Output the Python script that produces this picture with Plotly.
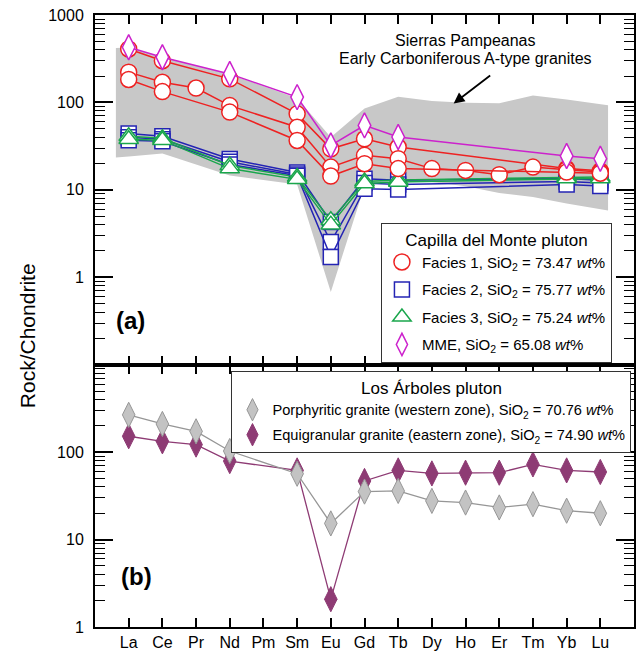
import plotly.graph_objects as go

ELEMENTS = ["La", "Ce", "Pr", "Nd", "Pm", "Sm", "Eu", "Gd", "Tb", "Dy", "Ho", "Er", "Tm", "Yb", "Lu"]
N = None

# ---- Panel (a): Capilla del Monte pluton ----
FACIES1 = [
    [409, 300, N, 186, N, 74, 29.5, 38.4, 30.9, N, N, N, N, 17.5, 16.5],
    [222, 170, 146, 92, N, 52, 18.2, 24.8, 22.7, 17.5, 16.7, 14.9, 18.2, 17.0, 16.0],
    [183, 133, N, 77.5, N, 36.7, 14.4, 19.9, 17.5, N, N, N, N, 16.0, 15.5],
]
FACIES2 = [
    [44, 41, N, 22.6, N, 15.8, 4.3, 13.4, 12.9, N, N, N, N, 13.5, 12.9],
    [40, 38, N, 21.0, N, 15.0, 2.54, 12.0, 11.5, N, N, N, N, 12.5, 12.0],
    [37, 36, N, 19.5, N, 14.5, 1.71, 10.3, 10.1, N, N, N, N, 11.5, 11.1],
]
FACIES3 = [
    [41, 39, N, 19.0, N, 14.0, 4.5, 12.5, 13.0, N, N, N, N, 14.0, 14.0],
    [38, 37, N, 17.5, N, 13.2, 4.0, 11.8, 12.3, N, N, N, N, 13.5, 13.5],
]
MME = [[428, 329, N, 212, N, 115, 32.2, 54.6, 40.2, N, N, N, N, 24.4, 22.7]]

# Sierras Pampeanas Early Carboniferous A-type granites field
BAND_X = [-0.38, 0, 1, 3, 5, 6, 7, 8, 9, 10, 11, 12, 13, 14, 14.23]
BAND_UPPER = [420, 425, 330, 210, 112, 40, 85, 116, 104, 99, 98, 120, 108, 95, 93]
BAND_LOWER = [23.5, 24, 26, 14.6, 11.5, 0.68, 11, 13, 12.3, 11, 9.2, 8.3, 7, 6, 5.8]

# ---- Panel (b): Los Árboles pluton ----
PORPHYRITIC = [267, 210, 173, 103, N, 56.6, 15.3, 35.4, 36, 27.7, 26.5, 23.3, 25.4, 21.4, 20]
EQUIGRANULAR = [152, 133, 122, 79, N, 61.8, 2.08, 46.8, 61.8, 57.1, 58.2, 58.2, 72.4, 61.8, 59.3]

FONT = "Liberation Sans, Arial, sans-serif"
XIDX = list(range(len(ELEMENTS)))

RED = "#ee2222"
BLUE = "#2424b4"
GREEN = "#1aa64c"
MAG = "#cc22cc"
GRAYM = "#c3c3c3"
GRAYL = "#969696"
PURPLE = "#8e3b74"

fig = go.Figure()

# band
fig.add_trace(go.Scatter(
    x=BAND_X + BAND_X[::-1], y=BAND_UPPER + BAND_LOWER[::-1],
    fill="toself", fillcolor="#c8c8c8", mode="lines", line=dict(width=0),
    showlegend=False, hoverinfo="skip", xaxis="x", yaxis="y"))

groups = [
    (FACIES2, BLUE, "square", 15, "Facies 2, SiO<sub>2</sub> = 75.77 <i>wt</i>%", 2),
    (FACIES3, GREEN, "triangle-up", 17, "Facies 3, SiO<sub>2</sub> = 75.24 <i>wt</i>%", 3),
    (FACIES1, RED, "circle", 16, "Facies 1, SiO<sub>2</sub> = 73.47 <i>wt</i>%", 1),
    (MME, MAG, "diamond-tall", 18, "MME, SiO<sub>2</sub> = 65.08 <i>wt</i>%", 4),
]
for samples, col, sym, size, name, rank in groups:
    for s in samples:
        fig.add_trace(go.Scatter(
            x=XIDX, y=s, mode="lines+markers", connectgaps=True,
            line=dict(color=col, width=1.5),
            marker=dict(symbol=sym, size=size, color="white", line=dict(color=col, width=1.5)),
            showlegend=False, xaxis="x", yaxis="y"))
    fig.add_trace(go.Scatter(
        x=[None], y=[None], mode="markers", name=name,
        marker=dict(symbol=sym, size=size, color="white", line=dict(color=col, width=1.5)),
        legend="legend", legendgroup=name, legendrank=rank, xaxis="x", yaxis="y"))

# panel b
fig.add_trace(go.Scatter(
    x=XIDX, y=EQUIGRANULAR, mode="lines+markers", connectgaps=True,
    line=dict(color=PURPLE, width=1.3),
    marker=dict(symbol="diamond-tall", size=18, color=PURPLE, line=dict(color=PURPLE, width=1)),
    showlegend=False, xaxis="x2", yaxis="y2"))
fig.add_trace(go.Scatter(
    x=XIDX, y=PORPHYRITIC, mode="lines+markers", connectgaps=True,
    line=dict(color=GRAYL, width=1.3),
    marker=dict(symbol="diamond-tall", size=18, color=GRAYM, line=dict(color=GRAYL, width=1)),
    showlegend=False, xaxis="x2", yaxis="y2"))
fig.add_trace(go.Scatter(
    x=[None], y=[None], mode="markers",
    name="Porphyritic granite (western zone), SiO<sub>2</sub> = 70.76 <i>wt</i>%",
    marker=dict(symbol="diamond-tall", size=18, color=GRAYM, line=dict(color=GRAYL, width=1)),
    legend="legend2", legendgroup="po", legendrank=1, xaxis="x2", yaxis="y2"))
fig.add_trace(go.Scatter(
    x=[None], y=[None], mode="markers",
    name="Equigranular granite (eastern zone), SiO<sub>2</sub> = 74.90 <i>wt</i>%",
    marker=dict(symbol="diamond-tall", size=18, color=PURPLE, line=dict(color=PURPLE, width=1)),
    legend="legend2", legendgroup="eq", legendrank=2, xaxis="x2", yaxis="y2"))

W, H = 640, 655
ML, MR, MT, MB = 95, 4, 15, 24
PW, PH = W - ML - MR, H - MT - MB
split = 264 / PH

def px(xp):
    return (xp - ML) / PW

def py(yp):
    return (H - MB - yp) / PH

MINOR_TOP = [m * 10 ** d for d in range(-1, 3) for m in range(2, 10)]
MINOR_BOT = [m * 10 ** d for d in range(0, 3) for m in range(2, 10)]

xcommon = dict(range=[-1, 15], showgrid=False, zeroline=False, showline=True,
               linecolor="black", linewidth=2, mirror="ticks", ticks="inside",
               ticklen=9, tickwidth=1.5, tickcolor="black",
               tickvals=XIDX, ticktext=ELEMENTS,
               tickfont=dict(family=FONT, size=16, color="black"))
ycommon = dict(type="log", showgrid=False, zeroline=False, showline=True,
               linecolor="black", linewidth=2, mirror="ticks", ticks="inside",
               ticklen=18, tickwidth=1.5, tickcolor="black",
               tickfont=dict(family=FONT, size=16, color="black"), ticklabelstandoff=6)

fig.update_layout(
    width=W, height=H, margin=dict(l=ML, r=MR, t=MT, b=MB),
    paper_bgcolor="white", plot_bgcolor="white",
    font=dict(family=FONT, color="black"),
    xaxis=dict(xcommon, anchor="y", showticklabels=False),
    xaxis2=dict(xcommon, anchor="y2", matches="x"),
    yaxis=dict(ycommon, domain=[split, 1], range=[-1, 3],
               tickvals=[0.1, 1, 10, 100, 1000], ticktext=["", "1", "10", "100", "1000"],
               minor=dict(ticks="inside", ticklen=10, tickwidth=1, tickcolor="black",
                          tickmode="array", tickvals=MINOR_TOP, showgrid=False)),
    yaxis2=dict(ycommon, domain=[0, split], range=[0, 3],
                tickvals=[1, 10, 100, 1000], ticktext=["1", "10", "100", ""],
                minor=dict(ticks="inside", ticklen=10, tickwidth=1, tickcolor="black",
                           tickmode="array", tickvals=MINOR_BOT, showgrid=False)),
    legend=dict(x=px(382), y=py(224), xanchor="left", yanchor="top",
                bgcolor="white", bordercolor="#333", borderwidth=1,
                font=dict(family=FONT, size=15, color="black"),
                title=dict(text="Capilla del Monte pluton", side="top center",
                           font=dict(family=FONT, size=17, color="black")),
                tracegroupgap=5, itemsizing="trace"),
    legend2=dict(x=px(232), y=py(373), xanchor="left", yanchor="top",
                 bgcolor="white", bordercolor="#333", borderwidth=1,
                 font=dict(family=FONT, size=14.6, color="black"),
                 title=dict(text="Los Árboles pluton", side="top center",
                            font=dict(family=FONT, size=17, color="black")),
                 tracegroupgap=3, itemsizing="trace"),
    showlegend=True,
)

ann = [
    dict(text="Sierras Pampeanas", x=px(467), y=py(41), xref="paper", yref="paper",
         showarrow=False, font=dict(size=16), xanchor="center", yanchor="middle"),
    dict(text="Early Carboniferous A-type granites", x=px(467), y=py(58.5), xref="paper", yref="paper",
         showarrow=False, font=dict(size=16), xanchor="center", yanchor="middle"),
    dict(text="", x=px(455), y=py(104), xref="paper", yref="paper", ax=38, ay=-29,
         showarrow=True, arrowhead=2, arrowsize=1.2, arrowwidth=1.8, arrowcolor="black"),
    dict(text="<b>(a)</b>", x=px(131), y=py(322), xref="paper", yref="paper",
         showarrow=False, font=dict(size=24), xanchor="center", yanchor="middle"),
    dict(text="<b>(b)</b>", x=px(137), y=py(580), xref="paper", yref="paper",
         showarrow=False, font=dict(size=24), xanchor="center", yanchor="middle"),
    dict(text="Rock/Chondrite", x=px(28), y=py(338), xref="paper", yref="paper",
         showarrow=False, font=dict(size=21), textangle=-90, xanchor="center", yanchor="middle"),
]
fig.update_layout(annotations=ann)

fig.write_html("out.html")
